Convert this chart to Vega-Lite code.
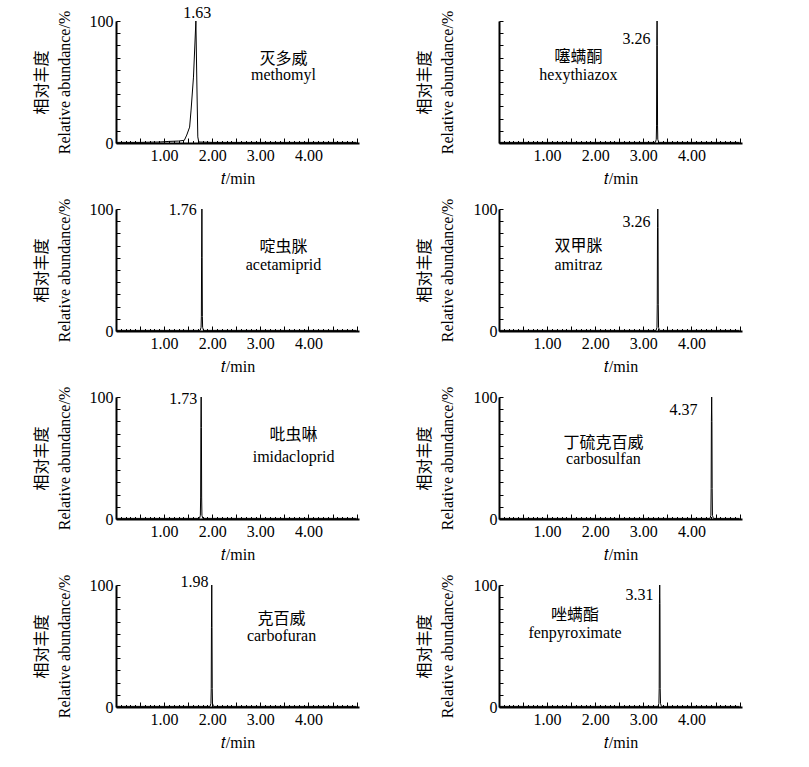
{
"$schema":"https://vega.github.io/schema/vega-lite/v6.json",
"padding":{"left":33,"top":5,"right":5,"bottom":5},
"background":"white",
"datasets":{
"trace":[
{"p":1,"t":0,"a":0.5},{"p":1,"t":0.5,"a":0.5},{"p":1,"t":0.9,"a":0.8},{"p":1,"t":1.1,"a":1.3},{"p":1,"t":1.3,"a":1.6},{"p":1,"t":1.42,"a":2.2},{"p":1,"t":1.47,"a":6.5},{"p":1,"t":1.53,"a":13},{"p":1,"t":1.56,"a":27},{"p":1,"t":1.61,"a":54},{"p":1,"t":1.66,"a":100},{"p":1,"t":1.68,"a":50},{"p":1,"t":1.7,"a":5},{"p":1,"t":1.72,"a":0.8},{"p":1,"t":2,"a":0.5},{"p":1,"t":3,"a":0.5},{"p":1,"t":4,"a":0.5},{"p":1,"t":5,"a":0.5},
{"p":2,"t":0,"a":0.5},{"p":2,"t":1,"a":0.5},{"p":2,"t":2,"a":0.5},{"p":2,"t":3,"a":0.5},{"p":2,"t":3.25,"a":0.5},{"p":2,"t":3.268,"a":3},{"p":2,"t":3.274,"a":14},{"p":2,"t":3.279,"a":80},{"p":2,"t":3.285,"a":100},{"p":2,"t":3.29,"a":80},{"p":2,"t":3.295,"a":14},{"p":2,"t":3.3,"a":3},{"p":2,"t":3.32,"a":0.5},{"p":2,"t":4,"a":0.5},{"p":2,"t":5,"a":0.5},
{"p":3,"t":0,"a":0.5},{"p":3,"t":1,"a":0.5},{"p":3,"t":1.75,"a":0.5},{"p":3,"t":1.768,"a":3},{"p":3,"t":1.774,"a":12},{"p":3,"t":1.779,"a":60},{"p":3,"t":1.785,"a":100},{"p":3,"t":1.79,"a":60},{"p":3,"t":1.795,"a":12},{"p":3,"t":1.8,"a":3},{"p":3,"t":1.82,"a":0.5},{"p":3,"t":3,"a":0.5},{"p":3,"t":5,"a":0.5},
{"p":4,"t":0,"a":0.5},{"p":4,"t":2,"a":0.5},{"p":4,"t":3.265,"a":0.5},{"p":4,"t":3.283,"a":3},{"p":4,"t":3.289,"a":22},{"p":4,"t":3.294,"a":85},{"p":4,"t":3.3,"a":100},{"p":4,"t":3.305,"a":85},{"p":4,"t":3.31,"a":22},{"p":4,"t":3.316,"a":3},{"p":4,"t":3.335,"a":0.5},{"p":4,"t":4,"a":0.5},{"p":4,"t":5,"a":0.5},
{"p":5,"t":0,"a":0.5},{"p":5,"t":1,"a":0.5},{"p":5,"t":1.735,"a":0.5},{"p":5,"t":1.753,"a":3},{"p":5,"t":1.759,"a":18},{"p":5,"t":1.764,"a":75},{"p":5,"t":1.77,"a":100},{"p":5,"t":1.775,"a":75},{"p":5,"t":1.78,"a":18},{"p":5,"t":1.786,"a":3},{"p":5,"t":1.805,"a":0.5},{"p":5,"t":3,"a":0.5},{"p":5,"t":5,"a":0.5},
{"p":6,"t":0,"a":0.5},{"p":6,"t":2,"a":0.5},{"p":6,"t":4,"a":0.5},{"p":6,"t":4.385,"a":0.5},{"p":6,"t":4.403,"a":3},{"p":6,"t":4.409,"a":25},{"p":6,"t":4.414,"a":80},{"p":6,"t":4.42,"a":100},{"p":6,"t":4.425,"a":80},{"p":6,"t":4.43,"a":25},{"p":6,"t":4.436,"a":3},{"p":6,"t":4.455,"a":0.5},{"p":6,"t":5,"a":0.5},
{"p":7,"t":0,"a":0.5},{"p":7,"t":1,"a":0.5},{"p":7,"t":1.955,"a":0.5},{"p":7,"t":1.973,"a":3},{"p":7,"t":1.979,"a":15},{"p":7,"t":1.984,"a":65},{"p":7,"t":1.99,"a":100},{"p":7,"t":1.995,"a":65},{"p":7,"t":2,"a":15},{"p":7,"t":2.006,"a":3},{"p":7,"t":2.025,"a":0.5},{"p":7,"t":3,"a":0.5},{"p":7,"t":5,"a":0.5},
{"p":8,"t":0,"a":0.5},{"p":8,"t":2,"a":0.5},{"p":8,"t":3.305,"a":0.5},{"p":8,"t":3.323,"a":3},{"p":8,"t":3.329,"a":15},{"p":8,"t":3.334,"a":85},{"p":8,"t":3.34,"a":100},{"p":8,"t":3.345,"a":85},{"p":8,"t":3.35,"a":15},{"p":8,"t":3.356,"a":3},{"p":8,"t":3.375,"a":0.5},{"p":8,"t":4,"a":0.5},{"p":8,"t":5,"a":0.5}
],
"rt":[
{"p":1,"t":1.98,"a":106.5,"txt":"1.63"},
{"p":2,"t":3.15,"a":85,"txt":"3.26"},
{"p":3,"t":1.68,"a":99,"txt":"1.76"},
{"p":4,"t":3.15,"a":89,"txt":"3.26"},
{"p":5,"t":1.69,"a":98,"txt":"1.73"},
{"p":6,"t":4.125,"a":89,"txt":"4.37"},
{"p":7,"t":1.92,"a":102.5,"txt":"1.98"},
{"p":8,"t":3.21,"a":92,"txt":"3.31"}
],
"names":[
{"p":1,"t":3.48,"a":69,"txt":"灭多威"},{"p":1,"t":3.48,"a":56,"txt":"methomyl"},
{"p":2,"t":1.65,"a":70.5,"txt":"噻螨酮"},{"p":2,"t":1.65,"a":55.7,"txt":"hexythiazox"},
{"p":3,"t":3.48,"a":69,"txt":"啶虫脒"},{"p":3,"t":3.48,"a":54.5,"txt":"acetamiprid"},
{"p":4,"t":1.65,"a":70,"txt":"双甲脒"},{"p":4,"t":1.65,"a":54,"txt":"amitraz"},
{"p":5,"t":3.69,"a":69,"txt":"吡虫啉"},{"p":5,"t":3.69,"a":51,"txt":"imidacloprid"},
{"p":6,"t":2.17,"a":62.6,"txt":"丁硫克百威"},{"p":6,"t":2.17,"a":48.8,"txt":"carbosulfan"},
{"p":7,"t":3.44,"a":72,"txt":"克百威"},{"p":7,"t":3.44,"a":58,"txt":"carbofuran"},
{"p":8,"t":1.58,"a":75.6,"txt":"唑螨酯"},{"p":8,"t":1.58,"a":60.5,"txt":"fenpyroximate"}
]
},
"columns":2,
"spacing":{"row":66,"column":140},
"bounds":"flush",
"concat":[
{"width":243,"height":122,"resolve":{"axis":{"x":"independent","y":"independent"}},"layer":[
{"data":{"name":"trace"},"transform":[{"filter":"datum.p==1"}],"mark":{"type":"line","color":"black","strokeWidth":1},"encoding":{"x":{"field":"t","type":"quantitative","scale":{"domain":[0,5.05],"nice":false,"zero":false},"axis":{"orient":"bottom","values":[0.5,1,1.5,2,2.5,3,3.5,4,4.5,5],"format":".2f","labelExpr":"datum.value==1||datum.value==2||datum.value==3||datum.value==4 ? datum.label : ''","tickSize":-5,"labelPadding":9,"labelDx":12,"labelFlush":false,"labelOverlap":false,"title":"𝑡/min","titlePadding":7}},"y":{"field":"a","type":"quantitative","scale":{"domain":[0,100],"nice":false},"axis":{"values":[0,10,20,30,40,50,60,70,80,90,100],"labelExpr":"datum.value==0||datum.value==100 ? datum.label : ''","tickSize":-4,"labelPadding":7,"labelFlush":false,"labelOverlap":false,"title":["相对丰度","Relative abundance/%"],"titlePadding":17,"titleLineHeight":23}}}},
{"data":{"name":"rt"},"transform":[{"filter":"datum.p==1"}],"mark":{"type":"text","align":"right","baseline":"middle"},"encoding":{"x":{"field":"t","type":"quantitative","axis":{"orient":"bottom","values":[0.1,0.2,0.3,0.4,0.6,0.7,0.8,0.9,1.1,1.2,1.3,1.4,1.6,1.7,1.8,1.9,2.1,2.2,2.3,2.4,2.6,2.7,2.8,2.9,3.1,3.2,3.3,3.4,3.6,3.7,3.8,3.9,4.1,4.2,4.3,4.4,4.6,4.7,4.8,4.9],"tickSize":-2.5,"labels":false,"domain":false,"title":null}},"y":{"field":"a","type":"quantitative","axis":null},"text":{"field":"txt"}}},
{"data":{"name":"names"},"transform":[{"filter":"datum.p==1"}],"mark":{"type":"text","align":"center","baseline":"middle"},"encoding":{"x":{"field":"t","type":"quantitative","axis":null},"y":{"field":"a","type":"quantitative","axis":null},"text":{"field":"txt"}}}
]},
{"width":243,"height":122,"resolve":{"axis":{"x":"independent","y":"independent"}},"layer":[
{"data":{"name":"trace"},"transform":[{"filter":"datum.p==2"}],"mark":{"type":"line","color":"black","strokeWidth":1},"encoding":{"x":{"field":"t","type":"quantitative","scale":{"domain":[0,5.05],"nice":false,"zero":false},"axis":{"orient":"bottom","values":[0.5,1,1.5,2,2.5,3,3.5,4,4.5,5],"format":".2f","labelExpr":"datum.value==1||datum.value==2||datum.value==3||datum.value==4 ? datum.label : ''","tickSize":-5,"labelPadding":9,"labelDx":5,"labelFlush":false,"labelOverlap":false,"title":"𝑡/min","titlePadding":7}},"y":{"field":"a","type":"quantitative","scale":{"domain":[0,100],"nice":false},"axis":{"values":[0,10,20,30,40,50,60,70,80,90,100],"labelExpr":"datum.value==0||datum.value==100 ? datum.label : ''","labelOpacity":0,"tickSize":-4,"labelPadding":7,"labelFlush":false,"labelOverlap":false,"title":["相对丰度","Relative abundance/%"],"titlePadding":17,"titleLineHeight":23}}}},
{"data":{"name":"rt"},"transform":[{"filter":"datum.p==2"}],"mark":{"type":"text","align":"right","baseline":"middle"},"encoding":{"x":{"field":"t","type":"quantitative","axis":{"orient":"bottom","values":[0.1,0.2,0.3,0.4,0.6,0.7,0.8,0.9,1.1,1.2,1.3,1.4,1.6,1.7,1.8,1.9,2.1,2.2,2.3,2.4,2.6,2.7,2.8,2.9,3.1,3.2,3.3,3.4,3.6,3.7,3.8,3.9,4.1,4.2,4.3,4.4,4.6,4.7,4.8,4.9],"tickSize":-2.5,"labels":false,"domain":false,"title":null}},"y":{"field":"a","type":"quantitative","axis":null},"text":{"field":"txt"}}},
{"data":{"name":"names"},"transform":[{"filter":"datum.p==2"}],"mark":{"type":"text","align":"center","baseline":"middle"},"encoding":{"x":{"field":"t","type":"quantitative","axis":null},"y":{"field":"a","type":"quantitative","axis":null},"text":{"field":"txt"}}}
]},
{"width":243,"height":122,"resolve":{"axis":{"x":"independent","y":"independent"}},"layer":[
{"data":{"name":"trace"},"transform":[{"filter":"datum.p==3"}],"mark":{"type":"line","color":"black","strokeWidth":1},"encoding":{"x":{"field":"t","type":"quantitative","scale":{"domain":[0,5.05],"nice":false,"zero":false},"axis":{"orient":"bottom","values":[0.5,1,1.5,2,2.5,3,3.5,4,4.5,5],"format":".2f","labelExpr":"datum.value==1||datum.value==2||datum.value==3||datum.value==4 ? datum.label : ''","tickSize":-5,"labelPadding":9,"labelDx":12,"labelFlush":false,"labelOverlap":false,"title":"𝑡/min","titlePadding":7}},"y":{"field":"a","type":"quantitative","scale":{"domain":[0,100],"nice":false},"axis":{"values":[0,10,20,30,40,50,60,70,80,90,100],"labelExpr":"datum.value==0||datum.value==100 ? datum.label : ''","tickSize":-4,"labelPadding":7,"labelFlush":false,"labelOverlap":false,"title":["相对丰度","Relative abundance/%"],"titlePadding":17,"titleLineHeight":23}}}},
{"data":{"name":"rt"},"transform":[{"filter":"datum.p==3"}],"mark":{"type":"text","align":"right","baseline":"middle"},"encoding":{"x":{"field":"t","type":"quantitative","axis":{"orient":"bottom","values":[0.1,0.2,0.3,0.4,0.6,0.7,0.8,0.9,1.1,1.2,1.3,1.4,1.6,1.7,1.8,1.9,2.1,2.2,2.3,2.4,2.6,2.7,2.8,2.9,3.1,3.2,3.3,3.4,3.6,3.7,3.8,3.9,4.1,4.2,4.3,4.4,4.6,4.7,4.8,4.9],"tickSize":-2.5,"labels":false,"domain":false,"title":null}},"y":{"field":"a","type":"quantitative","axis":null},"text":{"field":"txt"}}},
{"data":{"name":"names"},"transform":[{"filter":"datum.p==3"}],"mark":{"type":"text","align":"center","baseline":"middle"},"encoding":{"x":{"field":"t","type":"quantitative","axis":null},"y":{"field":"a","type":"quantitative","axis":null},"text":{"field":"txt"}}}
]},
{"width":243,"height":122,"resolve":{"axis":{"x":"independent","y":"independent"}},"layer":[
{"data":{"name":"trace"},"transform":[{"filter":"datum.p==4"}],"mark":{"type":"line","color":"black","strokeWidth":1},"encoding":{"x":{"field":"t","type":"quantitative","scale":{"domain":[0,5.05],"nice":false,"zero":false},"axis":{"orient":"bottom","values":[0.5,1,1.5,2,2.5,3,3.5,4,4.5,5],"format":".2f","labelExpr":"datum.value==1||datum.value==2||datum.value==3||datum.value==4 ? datum.label : ''","tickSize":-5,"labelPadding":9,"labelDx":5,"labelFlush":false,"labelOverlap":false,"title":"𝑡/min","titlePadding":7}},"y":{"field":"a","type":"quantitative","scale":{"domain":[0,100],"nice":false},"axis":{"values":[0,10,20,30,40,50,60,70,80,90,100],"labelExpr":"datum.value==0||datum.value==100 ? datum.label : ''","tickSize":-4,"labelPadding":6,"labelFlush":false,"labelOverlap":false,"title":["相对丰度","Relative abundance/%"],"titlePadding":18,"titleLineHeight":23}}}},
{"data":{"name":"rt"},"transform":[{"filter":"datum.p==4"}],"mark":{"type":"text","align":"right","baseline":"middle"},"encoding":{"x":{"field":"t","type":"quantitative","axis":{"orient":"bottom","values":[0.1,0.2,0.3,0.4,0.6,0.7,0.8,0.9,1.1,1.2,1.3,1.4,1.6,1.7,1.8,1.9,2.1,2.2,2.3,2.4,2.6,2.7,2.8,2.9,3.1,3.2,3.3,3.4,3.6,3.7,3.8,3.9,4.1,4.2,4.3,4.4,4.6,4.7,4.8,4.9],"tickSize":-2.5,"labels":false,"domain":false,"title":null}},"y":{"field":"a","type":"quantitative","axis":null},"text":{"field":"txt"}}},
{"data":{"name":"names"},"transform":[{"filter":"datum.p==4"}],"mark":{"type":"text","align":"center","baseline":"middle"},"encoding":{"x":{"field":"t","type":"quantitative","axis":null},"y":{"field":"a","type":"quantitative","axis":null},"text":{"field":"txt"}}}
]},
{"width":243,"height":122,"resolve":{"axis":{"x":"independent","y":"independent"}},"layer":[
{"data":{"name":"trace"},"transform":[{"filter":"datum.p==5"}],"mark":{"type":"line","color":"black","strokeWidth":1},"encoding":{"x":{"field":"t","type":"quantitative","scale":{"domain":[0,5.05],"nice":false,"zero":false},"axis":{"orient":"bottom","values":[0.5,1,1.5,2,2.5,3,3.5,4,4.5,5],"format":".2f","labelExpr":"datum.value==1||datum.value==2||datum.value==3||datum.value==4 ? datum.label : ''","tickSize":-5,"labelPadding":9,"labelDx":12,"labelFlush":false,"labelOverlap":false,"title":"𝑡/min","titlePadding":7}},"y":{"field":"a","type":"quantitative","scale":{"domain":[0,100],"nice":false},"axis":{"values":[0,10,20,30,40,50,60,70,80,90,100],"labelExpr":"datum.value==0||datum.value==100 ? datum.label : ''","tickSize":-4,"labelPadding":7,"labelFlush":false,"labelOverlap":false,"title":["相对丰度","Relative abundance/%"],"titlePadding":17,"titleLineHeight":23}}}},
{"data":{"name":"rt"},"transform":[{"filter":"datum.p==5"}],"mark":{"type":"text","align":"right","baseline":"middle"},"encoding":{"x":{"field":"t","type":"quantitative","axis":{"orient":"bottom","values":[0.1,0.2,0.3,0.4,0.6,0.7,0.8,0.9,1.1,1.2,1.3,1.4,1.6,1.7,1.8,1.9,2.1,2.2,2.3,2.4,2.6,2.7,2.8,2.9,3.1,3.2,3.3,3.4,3.6,3.7,3.8,3.9,4.1,4.2,4.3,4.4,4.6,4.7,4.8,4.9],"tickSize":-2.5,"labels":false,"domain":false,"title":null}},"y":{"field":"a","type":"quantitative","axis":null},"text":{"field":"txt"}}},
{"data":{"name":"names"},"transform":[{"filter":"datum.p==5"}],"mark":{"type":"text","align":"center","baseline":"middle"},"encoding":{"x":{"field":"t","type":"quantitative","axis":null},"y":{"field":"a","type":"quantitative","axis":null},"text":{"field":"txt"}}}
]},
{"width":243,"height":122,"resolve":{"axis":{"x":"independent","y":"independent"}},"layer":[
{"data":{"name":"trace"},"transform":[{"filter":"datum.p==6"}],"mark":{"type":"line","color":"black","strokeWidth":1},"encoding":{"x":{"field":"t","type":"quantitative","scale":{"domain":[0,5.05],"nice":false,"zero":false},"axis":{"orient":"bottom","values":[0.5,1,1.5,2,2.5,3,3.5,4,4.5,5],"format":".2f","labelExpr":"datum.value==1||datum.value==2||datum.value==3||datum.value==4 ? datum.label : ''","tickSize":-5,"labelPadding":9,"labelDx":5,"labelFlush":false,"labelOverlap":false,"title":"𝑡/min","titlePadding":7}},"y":{"field":"a","type":"quantitative","scale":{"domain":[0,100],"nice":false},"axis":{"values":[0,10,20,30,40,50,60,70,80,90,100],"labelExpr":"datum.value==0||datum.value==100 ? datum.label : ''","tickSize":-4,"labelPadding":6,"labelFlush":false,"labelOverlap":false,"title":["相对丰度","Relative abundance/%"],"titlePadding":18,"titleLineHeight":23}}}},
{"data":{"name":"rt"},"transform":[{"filter":"datum.p==6"}],"mark":{"type":"text","align":"right","baseline":"middle"},"encoding":{"x":{"field":"t","type":"quantitative","axis":{"orient":"bottom","values":[0.1,0.2,0.3,0.4,0.6,0.7,0.8,0.9,1.1,1.2,1.3,1.4,1.6,1.7,1.8,1.9,2.1,2.2,2.3,2.4,2.6,2.7,2.8,2.9,3.1,3.2,3.3,3.4,3.6,3.7,3.8,3.9,4.1,4.2,4.3,4.4,4.6,4.7,4.8,4.9],"tickSize":-2.5,"labels":false,"domain":false,"title":null}},"y":{"field":"a","type":"quantitative","axis":null},"text":{"field":"txt"}}},
{"data":{"name":"names"},"transform":[{"filter":"datum.p==6"}],"mark":{"type":"text","align":"center","baseline":"middle"},"encoding":{"x":{"field":"t","type":"quantitative","axis":null},"y":{"field":"a","type":"quantitative","axis":null},"text":{"field":"txt"}}}
]},
{"width":243,"height":122,"resolve":{"axis":{"x":"independent","y":"independent"}},"layer":[
{"data":{"name":"trace"},"transform":[{"filter":"datum.p==7"}],"mark":{"type":"line","color":"black","strokeWidth":1},"encoding":{"x":{"field":"t","type":"quantitative","scale":{"domain":[0,5.05],"nice":false,"zero":false},"axis":{"orient":"bottom","values":[0.5,1,1.5,2,2.5,3,3.5,4,4.5,5],"format":".2f","labelExpr":"datum.value==1||datum.value==2||datum.value==3||datum.value==4 ? datum.label : ''","tickSize":-5,"labelPadding":9,"labelDx":12,"labelFlush":false,"labelOverlap":false,"title":"𝑡/min","titlePadding":7}},"y":{"field":"a","type":"quantitative","scale":{"domain":[0,100],"nice":false},"axis":{"values":[0,10,20,30,40,50,60,70,80,90,100],"labelExpr":"datum.value==0||datum.value==100 ? datum.label : ''","tickSize":-4,"labelPadding":7,"labelFlush":false,"labelOverlap":false,"title":["相对丰度","Relative abundance/%"],"titlePadding":17,"titleLineHeight":23}}}},
{"data":{"name":"rt"},"transform":[{"filter":"datum.p==7"}],"mark":{"type":"text","align":"right","baseline":"middle"},"encoding":{"x":{"field":"t","type":"quantitative","axis":{"orient":"bottom","values":[0.1,0.2,0.3,0.4,0.6,0.7,0.8,0.9,1.1,1.2,1.3,1.4,1.6,1.7,1.8,1.9,2.1,2.2,2.3,2.4,2.6,2.7,2.8,2.9,3.1,3.2,3.3,3.4,3.6,3.7,3.8,3.9,4.1,4.2,4.3,4.4,4.6,4.7,4.8,4.9],"tickSize":-2.5,"labels":false,"domain":false,"title":null}},"y":{"field":"a","type":"quantitative","axis":null},"text":{"field":"txt"}}},
{"data":{"name":"names"},"transform":[{"filter":"datum.p==7"}],"mark":{"type":"text","align":"center","baseline":"middle"},"encoding":{"x":{"field":"t","type":"quantitative","axis":null},"y":{"field":"a","type":"quantitative","axis":null},"text":{"field":"txt"}}}
]},
{"width":243,"height":122,"resolve":{"axis":{"x":"independent","y":"independent"}},"layer":[
{"data":{"name":"trace"},"transform":[{"filter":"datum.p==8"}],"mark":{"type":"line","color":"black","strokeWidth":1},"encoding":{"x":{"field":"t","type":"quantitative","scale":{"domain":[0,5.05],"nice":false,"zero":false},"axis":{"orient":"bottom","values":[0.5,1,1.5,2,2.5,3,3.5,4,4.5,5],"format":".2f","labelExpr":"datum.value==1||datum.value==2||datum.value==3||datum.value==4 ? datum.label : ''","tickSize":-5,"labelPadding":9,"labelDx":5,"labelFlush":false,"labelOverlap":false,"title":"𝑡/min","titlePadding":7}},"y":{"field":"a","type":"quantitative","scale":{"domain":[0,100],"nice":false},"axis":{"values":[0,10,20,30,40,50,60,70,80,90,100],"labelExpr":"datum.value==0||datum.value==100 ? datum.label : ''","tickSize":-4,"labelPadding":6,"labelFlush":false,"labelOverlap":false,"title":["相对丰度","Relative abundance/%"],"titlePadding":18,"titleLineHeight":23}}}},
{"data":{"name":"rt"},"transform":[{"filter":"datum.p==8"}],"mark":{"type":"text","align":"right","baseline":"middle"},"encoding":{"x":{"field":"t","type":"quantitative","axis":{"orient":"bottom","values":[0.1,0.2,0.3,0.4,0.6,0.7,0.8,0.9,1.1,1.2,1.3,1.4,1.6,1.7,1.8,1.9,2.1,2.2,2.3,2.4,2.6,2.7,2.8,2.9,3.1,3.2,3.3,3.4,3.6,3.7,3.8,3.9,4.1,4.2,4.3,4.4,4.6,4.7,4.8,4.9],"tickSize":-2.5,"labels":false,"domain":false,"title":null}},"y":{"field":"a","type":"quantitative","axis":null},"text":{"field":"txt"}}},
{"data":{"name":"names"},"transform":[{"filter":"datum.p==8"}],"mark":{"type":"text","align":"center","baseline":"middle"},"encoding":{"x":{"field":"t","type":"quantitative","axis":null},"y":{"field":"a","type":"quantitative","axis":null},"text":{"field":"txt"}}}
]}
],
"config":{
"view":{"stroke":null},
"axis":{"labelFont":"Liberation Serif","labelFontSize":16,"labelColor":"black","titleFont":"Liberation Serif, Noto Sans CJK SC","titleFontSize":16,"titleFontWeight":"normal","titleColor":"black","domainColor":"black","domainWidth":2,"tickColor":"black","tickWidth":1,"grid":false},
"text":{"font":"Liberation Serif, Noto Sans CJK SC","fontSize":16,"color":"black"}
}
}
